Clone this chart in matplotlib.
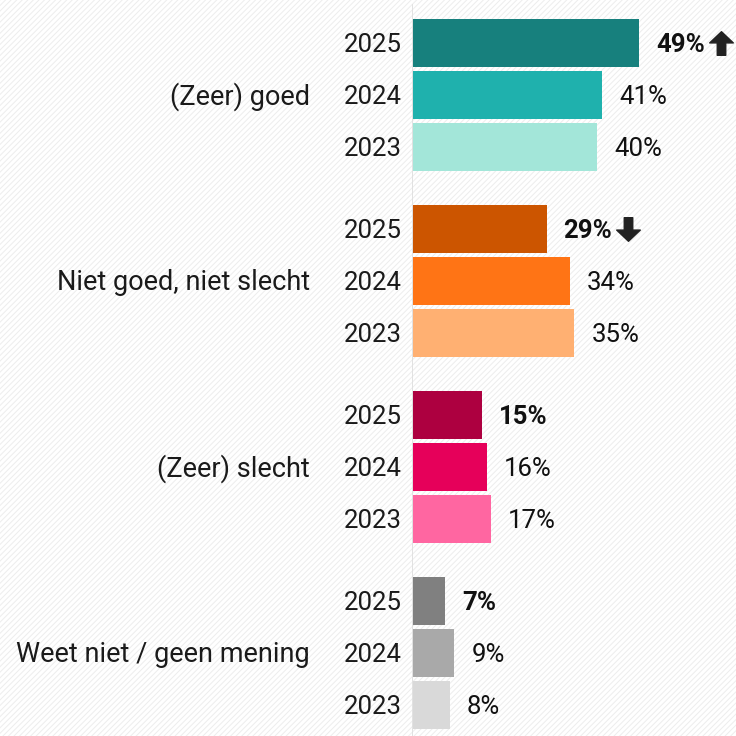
import matplotlib.pyplot as plt
from matplotlib.patches import Rectangle
from matplotlib.path import Path
import numpy as np

plt.rcParams['font.family'] = ['Roboto', 'DejaVu Sans']
plt.rcParams['hatch.linewidth'] = 0.7

categories = ["(Zeer) goed", "Niet goed, niet slecht", "(Zeer) slecht", "Weet niet / geen mening"]
years = ["2025", "2024", "2023"]
values = [
    [49, 41, 40],
    [29, 34, 35],
    [15, 16, 17],
    [7, 9, 8],
]
arrows = ["up", "down", "", ""]
colors = [
    ["#17807d", "#1fb1ad", "#a3e6d9"],
    ["#cc5500", "#ff7415", "#ffb072"],
    ["#ad0040", "#e6005a", "#ff66a1"],
    ["#808080", "#a9a9a9", "#d9d9d9"],
]

up_arrow = Path([(0, 1), (1, 0.05), (0.36, 0.05), (0.36, -1), (-0.36, -1),
                 (-0.36, 0.05), (-1, 0.05), (0, 1)], closed=True)
down_arrow = Path([(x, -y) for x, y in up_arrow.vertices], closed=True)

fig = plt.figure(figsize=(7.36, 7.36), dpi=100)

# faint diagonal hatching in the background
bg = Rectangle((0, 0), 1, 1, transform=fig.transFigure, facecolor="white",
               edgecolor="#ededed", hatch="//////", linewidth=0, zorder=-10)
fig.patches.append(bg)

px = 4.61  # pixels per percent
ax = fig.add_axes([412 / 736, 0, 324 / 736, 1])
ax.set_xlim(0, 324 / px)
ax.patch.set_alpha(0)

pitch = 52
group_pitch = 186
ylim_top = -43 / pitch
ylim_bot = (group_pitch * 3 + 2 * pitch + 31) / pitch
ax.set_ylim(ylim_bot, ylim_top)
for s in ax.spines.values():
    s.set_visible(False)
ax.set_xticks([])
ax.set_yticks([])

ax.axvline(0, ymin=0, ymax=1 - 5 / 736, color="#dddddd", lw=1.2, zorder=1)

fs = 18.5
fig.canvas.draw()
for g, cat in enumerate(categories):
    for j, yr in enumerate(years):
        y = (g * group_pitch + j * pitch) / pitch
        v = values[g][j]
        ax.barh(y, v, height=48 / pitch, left=0.2, color=colors[g][j], zorder=2)
        ax.text(-10 / px, y + 0.03, yr, ha="right", va="center", fontsize=fs, color="#1a1a1a")
        bold = j == 0
        lx = v + 0.2 + 17 / px
        t = ax.text(lx, y + 0.03, f"{v}%", ha="left", va="center", fontsize=fs,
                    fontweight="bold" if bold else "normal", color="#111111")
        if bold and arrows[g]:
            bb = t.get_window_extent(renderer=fig.canvas.get_renderer())
            xd = ax.transData.inverted().transform((bb.x1 + 16, 0))[0]
            mk = up_arrow if arrows[g] == "up" else down_arrow
            ax.plot(xd, y, marker=mk, markersize=17, color="#222222", lw=0)
    ymid = (g * group_pitch + pitch) / pitch
    ax.text(-102 / px, ymid + 0.03, cat, ha="right", va="center", fontsize=19.5, color="#1a1a1a")

fig.savefig("out.png", dpi=100)
